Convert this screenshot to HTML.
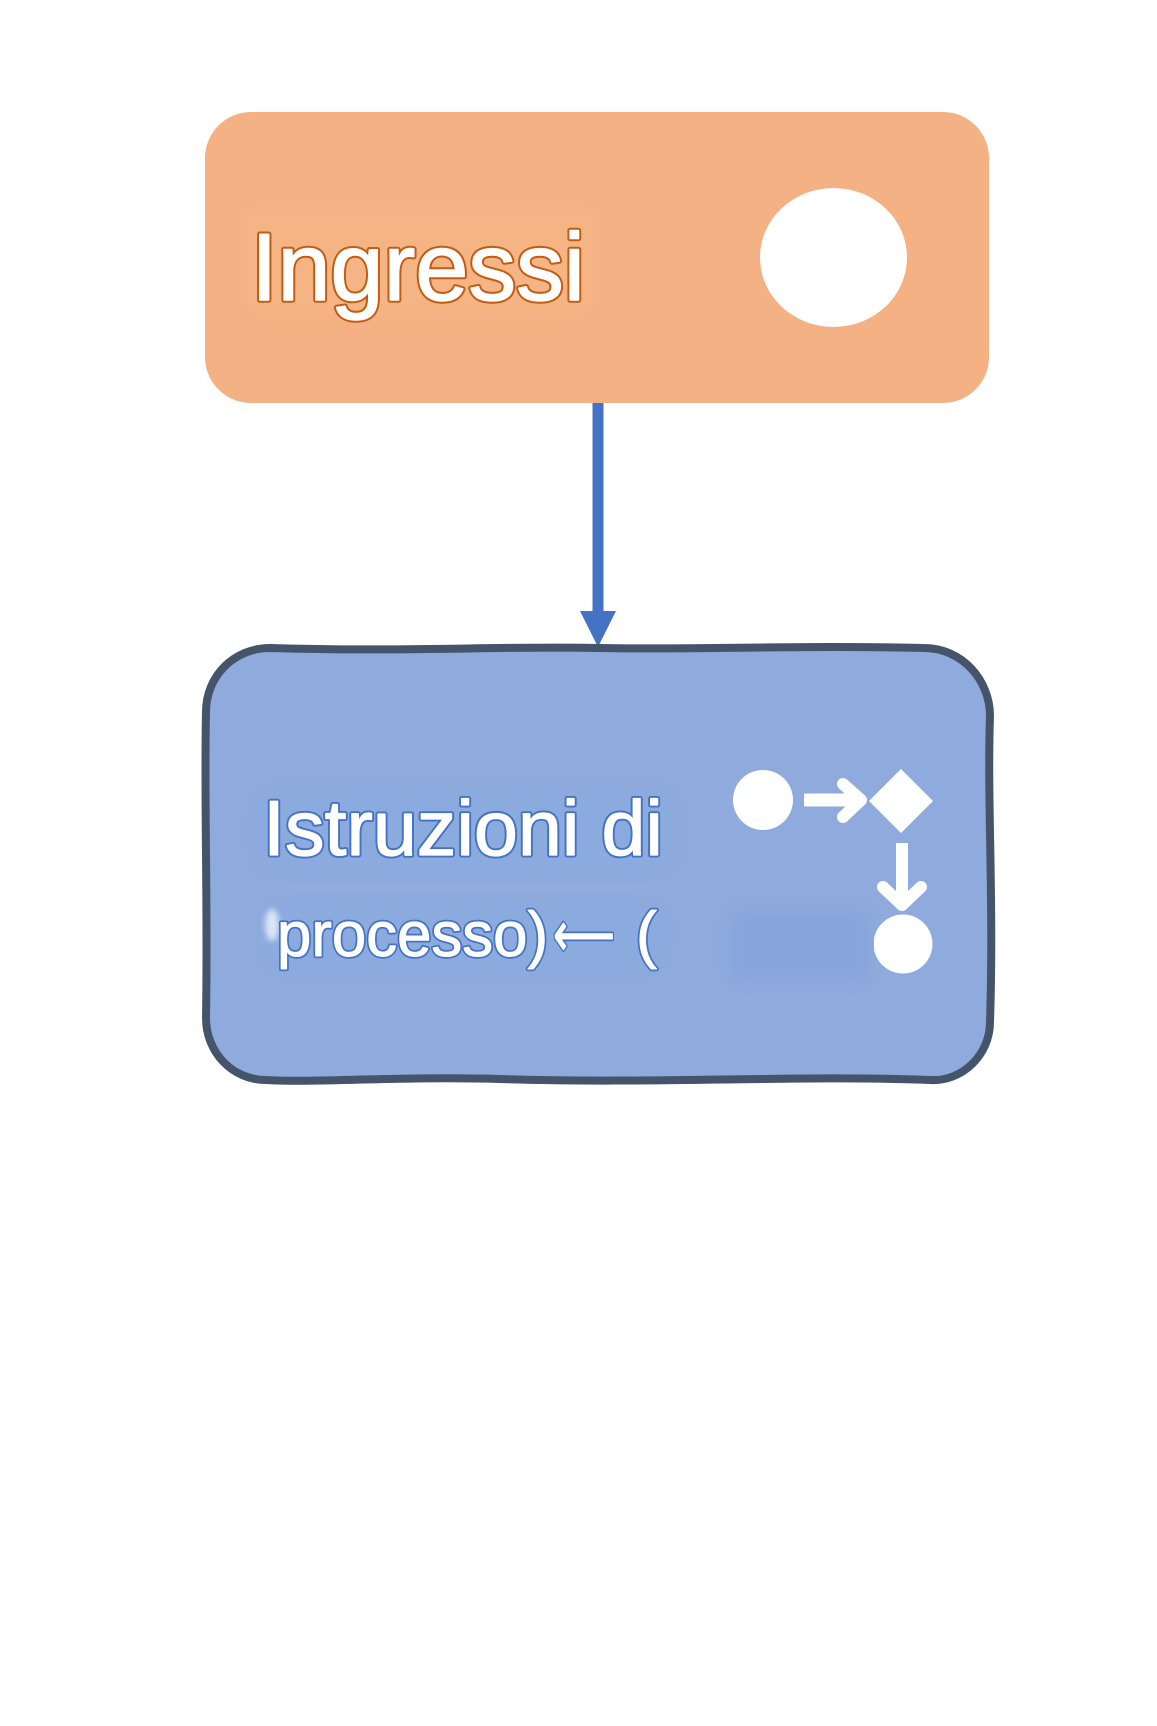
<!DOCTYPE html>
<html>
<head>
<meta charset="utf-8">
<style>
  html, body { margin:0; padding:0; background:#ffffff; }
  body { width:1157px; height:1726px; overflow:hidden; }
  svg { display:block; }
  text { font-family: "Liberation Sans", "DejaVu Sans", sans-serif; }
</style>
</head>
<body>
<svg width="1157" height="1726" viewBox="0 0 1157 1726" xmlns="http://www.w3.org/2000/svg">
  <defs>
    <filter id="blur6" x="-30%" y="-30%" width="160%" height="160%">
      <feGaussianBlur stdDeviation="6"/>
    </filter>
    <filter id="blur3" x="-50%" y="-50%" width="200%" height="200%">
      <feGaussianBlur stdDeviation="3"/>
    </filter>
    <clipPath id="c2clip">
      <rect x="874" y="900" width="80" height="90"/>
    </clipPath>
  </defs>

  <!-- Orange box -->
  <rect x="205" y="112" width="784" height="291" rx="46" ry="46" fill="#F4B183"/>
  <rect x="240" y="205" width="360" height="110" rx="20" fill="#F6BA88" opacity="0.35" filter="url(#blur6)"/>
  <text x="251" y="300" font-size="96" textLength="334" lengthAdjust="spacingAndGlyphs" fill="#ffffff" stroke="#C55A11" stroke-width="5.5" stroke-linejoin="round">Ingressi</text>
  <text x="251" y="300" font-size="96" textLength="334" lengthAdjust="spacingAndGlyphs" fill="#ffffff" stroke="#ffffff" stroke-width="1.5" stroke-linejoin="round">Ingressi</text>
  <ellipse cx="833.5" cy="257.5" rx="73.5" ry="69.5" fill="#ffffff"/>

  <!-- Connector arrow -->
  <rect x="592.5" y="403" width="11" height="210" fill="#4472C4"/>
  <polygon points="580,611 616,611 598,647" fill="#4472C4"/>

  <!-- Blue sketchy box -->
  <path d="M 270 648
           C 400 652, 500 646, 600 648
           C 700 650, 800 645, 924 648
           C 962 648, 990 680, 990 716
           C 987 800, 994 900, 990 1022
           C 990 1055, 962 1082, 930 1080
           C 800 1075, 650 1084, 500 1079
           C 400 1076, 320 1083, 266 1080
           C 232 1080, 206 1052, 206 1018
           C 208 900, 204 800, 206 712
           C 206 676, 234 648, 270 648 Z"
        fill="#8FAADC" stroke="#44546A" stroke-width="8" stroke-linejoin="round"/>

  <!-- subtle glow patches -->
  <rect x="255" y="790" width="420" height="80" rx="20" fill="#86ACE2" opacity="0.4" filter="url(#blur6)"/>
  <rect x="265" y="905" width="400" height="65" rx="20" fill="#86ACE2" opacity="0.4" filter="url(#blur6)"/>
  <rect x="730" y="910" width="140" height="70" rx="12" fill="#7FA2DE" opacity="0.5" filter="url(#blur6)"/>
  <ellipse cx="272" cy="925" rx="7" ry="16" fill="#ffffff" opacity="0.7" filter="url(#blur3)"/>

  <!-- Texts in blue box -->
  <g font-size="78">
    <text x="263" y="855" textLength="400" lengthAdjust="spacingAndGlyphs" fill="#ffffff" stroke="#4472C4" stroke-width="5" stroke-linejoin="round">Istruzioni di</text>
    <text x="263" y="855" textLength="400" lengthAdjust="spacingAndGlyphs" fill="#ffffff" stroke="#ffffff" stroke-width="1.2" stroke-linejoin="round">Istruzioni di</text>
  </g>
  <g font-size="63">
    <text y="956" fill="#ffffff" stroke="#4472C4" stroke-width="4.5" stroke-linejoin="round"><tspan x="277" textLength="271" lengthAdjust="spacingAndGlyphs">processo)</tspan><tspan x="553" textLength="62" lengthAdjust="spacingAndGlyphs">⟵</tspan><tspan x="634"> </tspan><tspan x="636">(</tspan></text>
    <text y="956" fill="#ffffff" stroke="#ffffff" stroke-width="1" stroke-linejoin="round"><tspan x="277" textLength="271" lengthAdjust="spacingAndGlyphs">processo)</tspan><tspan x="553" textLength="62" lengthAdjust="spacingAndGlyphs">⟵</tspan><tspan x="634"> </tspan><tspan x="636">(</tspan></text>
  </g>

  <!-- Flow icon -->
  <circle cx="763" cy="800" r="30" fill="#ffffff"/>
  <rect x="804" y="793.5" width="52" height="13" fill="#ffffff"/>
  <polyline points="843,784 861,800 843,817" fill="none" stroke="#ffffff" stroke-width="12" stroke-linecap="round" stroke-linejoin="round"/>
  <polygon points="901,769 933,801 901,833 869,801" fill="#ffffff"/>
  <rect x="896" y="843" width="12" height="55" fill="#ffffff"/>
  <polyline points="883,887 902,905 921,887" fill="none" stroke="#ffffff" stroke-width="12" stroke-linecap="round" stroke-linejoin="round"/>
  <circle cx="903" cy="944" r="29.5" fill="#ffffff" clip-path="url(#c2clip)"/>
</svg>
</body>
</html>
